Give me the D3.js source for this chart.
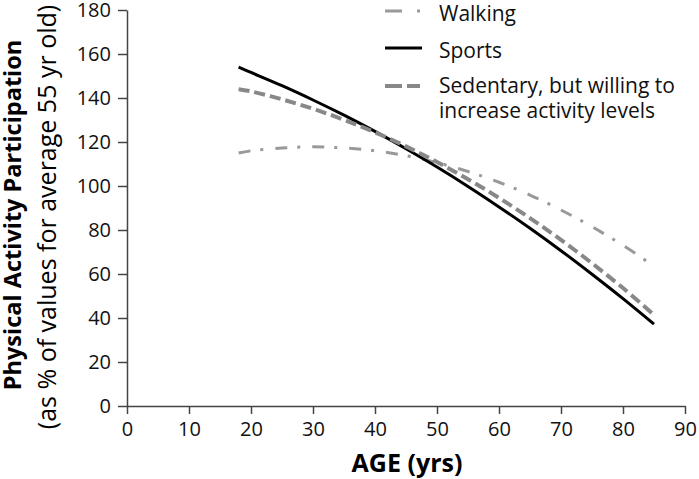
<!DOCTYPE html>
<html>
<head>
<meta charset="utf-8">
<script src="https://cdn.jsdelivr.net/npm/d3@7"></script>
<style>
  body { margin: 0; background: #fff; }
  svg { font-family: "Open Sans", sans-serif; }
</style>
</head>
<body>
<svg width="699" height="479"></svg>
<script>
var ages = [18, 20, 25, 30, 35, 40, 45, 50, 55, 60, 65, 70, 75, 80, 85];
var walking = [115, 116, 117.3, 117.8, 117.3, 116, 113.8, 110.6, 106.6, 101.7, 95.9, 89.1, 81.5, 73, 63.6];
var sports = [154, 151.6, 145.6, 139.1, 132.2, 124.8, 116.9, 108.6, 99.8, 90.5, 80.8, 70.6, 59.9, 48.8, 37.2];
var sedentary = [144, 143, 139.4, 135.1, 130.1, 124.4, 118, 110.9, 103.1, 94.6, 85.4, 75.5, 64.9, 53.6, 41.4];
var xTicks = [0, 10, 20, 30, 40, 50, 60, 70, 80, 90];
var yTicks = [0, 20, 40, 60, 80, 100, 120, 140, 160, 180];

var svg = d3.select("svg");

var x = d3.scaleLinear().domain([0, 90]).range([127, 685]);
var y = d3.scaleLinear().domain([0, 180]).range([406, 10]);

var series = [
  { name: "Walking", values: walking, color: "#999", width: 3, dash: "12,10,3,12", key: "17,15,3,20" },
  { name: "Sports", values: sports, color: "#000", width: 3, dash: null, key: null },
  { name: "Sedentary", values: sedentary, color: "#888", width: 4, dash: "11,5", key: "17,5,13,20" }
];

// axes
svg.append("g")
  .attr("transform", "translate(" + x(0) + ",0)")
  .call(d3.axisLeft(y).tickValues(yTicks).tickSize(9).tickPadding(7).tickSizeOuter(0));

svg.append("g")
  .attr("transform", "translate(0," + y(0) + ")")
  .call(d3.axisBottom(x).tickValues(xTicks).tickSize(8).tickPadding(8).tickSizeOuter(0));

svg.selectAll(".domain").attr("stroke", "#444").attr("stroke-width", 1.5);
svg.selectAll(".tick line").attr("stroke", "#444").attr("stroke-width", 1.5);
svg.selectAll(".tick text")
  .attr("fill", "#111")
  .style("font-size", "20px")
  .style("font-family", "Open Sans, sans-serif");

// lines
var line = d3.line()
  .x(function (d, i) { return x(ages[i]); })
  .y(function (d) { return y(d); })
  .curve(d3.curveCatmullRom);

series.forEach(function (s) {
  svg.append("path")
    .attr("d", line(s.values))
    .attr("fill", "none")
    .attr("stroke", s.color)
    .attr("stroke-width", s.width)
    .attr("stroke-dasharray", s.dash);
});

// legend
var legend = [
  { s: series[0], y: 11, base: 21, lines: ["Walking"] },
  { s: series[1], y: 48, base: 58, lines: ["Sports"] },
  { s: series[2], y: 86, base: 93, lines: ["Sedentary, but willing to", "increase activity levels"] }
];

legend.forEach(function (l) {
  svg.append("line")
    .attr("x1", 385).attr("x2", 422)
    .attr("y1", l.y).attr("y2", l.y)
    .attr("stroke", l.s.color)
    .attr("stroke-width", l.s.width)
    .attr("stroke-dasharray", l.s.key);
  l.lines.forEach(function (t, i) {
    svg.append("text")
      .attr("x", 439)
      .attr("y", l.base + i * 25)
      .style("font-size", "21px")
      .attr("fill", "#111")
      .text(t);
  });
});

// axis titles
svg.append("text")
  .attr("x", 407)
  .attr("y", 472)
  .attr("text-anchor", "middle")
  .style("font-size", "25px")
  .style("font-weight", "bold")
  .text("AGE (yrs)");

svg.append("text")
  .attr("transform", "translate(21,215) rotate(-90)")
  .attr("text-anchor", "middle")
  .style("font-size", "23.5px")
  .style("font-weight", "bold")
  .text("Physical Activity Participation");

svg.append("text")
  .attr("transform", "translate(56,217) rotate(-90)")
  .attr("text-anchor", "middle")
  .style("font-size", "25px")
  .text("(as % of values for average 55 yr old)");
</script>
</body>
</html>
